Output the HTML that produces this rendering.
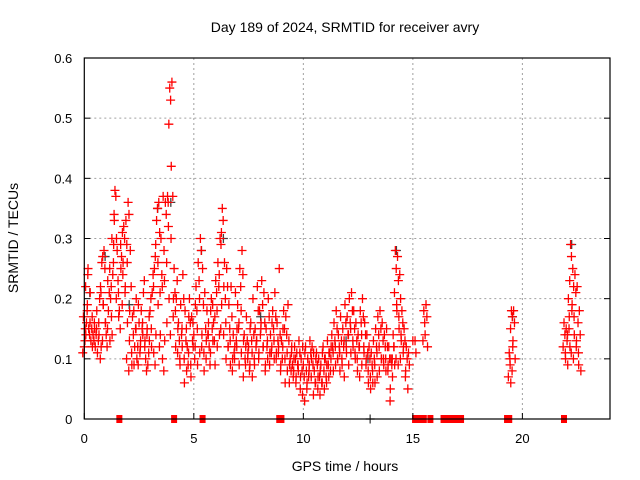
<!DOCTYPE html>
<html><head><meta charset="utf-8"><style>
body{margin:0;background:#fff;}
svg{display:block;font-family:"Liberation Sans",sans-serif;}
</style></head><body>
<svg id="c" width="640" height="480">
<text x="345" y="32" text-anchor="middle" font-size="14">Day 189 of 2024, SRMTID for receiver avry</text>
<text x="345" y="471" text-anchor="middle" font-size="14">GPS time / hours</text>
<text transform="translate(18,238) rotate(-90)" text-anchor="middle" font-size="14">SRMTID / TECUs</text>
<g id="grid"></g><g id="gray"></g><g id="pts"></g><g id="axes"></g>
</svg>
<script>
const xTicks=[0,5,10,15,20];
const yTicks=[0,0.1,0.2,0.3,0.4,0.5,0.6];
const yTickLabels=["0","0.1","0.2","0.3","0.4","0.5","0.6"];
const times=[0.0,0.1,0.2,0.3,0.4,0.5,0.6,0.7,0.8,0.9,1.0,1.1,1.2,1.3,1.4,1.5,1.6,1.7,1.8,1.9,2.0,2.1,2.2,2.3,2.4,2.5,2.6,2.7,2.8,2.9,3.0,3.1,3.2,3.3,3.4,3.5,3.6,3.7,3.8,3.9,4.0,4.1,4.2,4.3,4.4,4.5,4.6,4.7,4.8,4.9,5.0,5.1,5.2,5.3,5.4,5.5,5.6,5.7,5.8,5.9,6.0,6.1,6.2,6.3,6.4,6.5,6.6,6.7,6.8,6.9,7.0,7.1,7.2,7.3,7.4,7.5,7.6,7.7,7.8,7.9,8.0,8.1,8.2,8.3,8.4,8.5,8.6,8.7,8.8,8.9,9.0,9.1,9.2,9.3,9.4,9.5,9.6,9.7,9.8,9.9,10.0,10.1,10.2,10.3,10.4,10.5,10.6,10.7,10.8,10.9,11.0,11.1,11.2,11.3,11.4,11.5,11.6,11.7,11.8,11.9,12.0,12.1,12.2,12.3,12.4,12.5,12.6,12.7,12.8,12.9,13.0,13.1,13.2,13.3,13.4,13.5,13.6,13.7,13.8,13.9,14.0,14.1,14.2,14.3,14.4,14.5,14.6,14.7,14.8,15.0,15.1,15.5,15.6,19.4,19.5,19.6,21.9,22.0,22.1,22.2,22.3,22.4,22.5,22.6];
const values=[[.12,.15,.17,.14,.11],[.16,.19,.22,.25,.13],[.15,.14,.24,.21,.18],[.13,.15,.16,.12],[.14,.13,.17,.15],[.12,.14,.16,.18],[.11,.13,.15,.14],[.20,.22,.16,.12],[.26,.27,.21,.19,.10],[.28,.25,.19,.16,.13],[.14,.12,.16,.23],[.18,.21,.15,.13],[.20,.17,.25,.14],[.24,.29,.30,.33,.22],[.38,.37,.34,.30,.26],[.28,.23,.20,.17],[.18,.15,.21,.25],[.27,.31,.29,.26],[.32,.30,.24,.22,.19],[.33,.29,.21,.16],[.36,.34,.26,.18,.10],[.28,.22,.13,.09,.08],[.17,.14,.11,.09],[.12,.15,.18,.20],[.10,.12,.15,.19],[.16,.11,.09,.13],[.18,.15,.12,.14],[.21,.23,.16,.13],[.10,.08,.12,.15],[.09,.11,.14,.13],[.18,.20,.17,.12],[.21,.24,.15,.11],[.25,.27,.22,.14],[.33,.35,.29,.19,.09],[.36,.31,.26,.14],[.30,.24,.21,.10,.12],[.37,.28,.22,.13],[.36,.34,.23,.16,.08],[.37,.32,.26,.20],[.55,.53,.49,.42,.36],[.56,.37,.30,.20,.14],[.25,.21,.17,.12],[.20,.23,.18,.15],[.16,.13,.11,.09],[.19,.14,.10,.12],[.24,.20,.15,.06],[.18,.13,.10,.08],[.12,.09,.15,.17],[.20,.16,.11,.07],[.17,.13,.09,.12],[.14,.10,.16,.19],[.22,.18,.12,.09],[.26,.23,.15,.11],[.30,.28,.20,.14],[.25,.19,.12,.08],[.21,.15,.11,.13],[.18,.14,.10,.16],[.12,.09,.14,.18],[.20,.15,.11,.13],[.16,.13,.19,.09],[.23,.21,.17,.12],[.26,.22,.18,.14],[.30,.29,.24,.19],[.35,.33,.31,.22,.15],[.26,.20,.14,.10],[.25,.22,.16,.12],[.19,.15,.12,.09],[.22,.17,.13,.10],[.14,.11,.08,.12],[.21,.13,.10,.15],[.19,.15,.12,.09],[.25,.22,.16,.11],[.28,.24,.18,.13],[.14,.10,.07,.12],[.17,.13,.09,.11],[.12,.08,.10,.15],[.16,.13,.09,.07],[.20,.14,.11,.09],[.15,.12,.10,.13],[.22,.18,.13,.11],[.18,.14,.10,.16],[.23,.19,.15,.12],[.21,.16,.12,.09],[.15,.12,.08,.10],[.20,.17,.13,.11],[.14,.11,.09,.16],[.18,.15,.12,.10],[.21,.17,.13,.11],[.16,.13,.10,.12],[.25,.14,.11,.09],[.13,.10,.08,.15],[.18,.15,.12,.06],[.17,.14,.10,.08],[.19,.13,.11,.09],[.10,.08,.06,.12],[.09,.07,.11,.10],[.12,.10,.08,.07],[.11,.09,.06,.08],[.13,.11,.09,.07],[.10,.08,.05,.12],[.09,.07,.04,.11],[.12,.08,.03,.06],[.10,.07,.05,.09],[.13,.11,.08,.10],[.12,.09,.07,.11],[.08,.06,.04,.10],[.11,.09,.06,.07],[.10,.07,.05,.08],[.09,.06,.04,.11],[.12,.08,.06,.10],[.10,.07,.05,.09],[.13,.09,.06,.11],[.11,.08,.07,.12],[.14,.12,.10,.08],[.16,.13,.11,.09],[.18,.15,.12,.10],[.14,.12,.10,.08],[.17,.13,.11,.09],[.15,.12,.10,.07],[.19,.16,.13,.11],[.17,.14,.12,.09],[.20,.16,.14,.11],[.21,.18,.15,.12],[.18,.15,.13,.10],[.16,.13,.11,.08],[.14,.12,.10,.07],[.18,.16,.12,.09],[.20,.17,.14,.11],[.16,.14,.12,.10],[.14,.11,.09,.06],[.12,.10,.08,.05],[.11,.09,.07,.06],[.13,.10,.08,.06],[.15,.12,.09,.07],[.17,.14,.11,.08],[.18,.15,.12,.10],[.16,.13,.10,.09],[.14,.12,.10,.08],[.15,.12,.10,.09],[.12,.10,.08,.05],[.10,.09,.03,.07],[.14,.12,.10,.09],[.28,.25,.21,.18,.12],[.27,.23,.19,.15,.10],[.24,.20,.17,.13,.09],[.18,.16,.14,.12,.10],[.15,.13,.11,.08],[.12,.10,.07,.05],[.11,.09],[.13],[.13,.11],[.18,.16,.13],[.19,.17,.14,.12],[.11,.09,.07,.06],[.18,.17,.15,.13,.10],[.18,.16,.12,.10,.08],[.16,.14,.12,.10],[.15,.13,.11,.09],[.20,.17,.14,.12],[.29,.27,.23,.19,.15],[.25,.22,.18,.14,.11],[.24,.21,.17,.13,.10],[.22,.16,.12,.09],[.18,.14,.11,.08]];
const zeroTimes=[1.6,4.1,5.4,8.9,9.0,15.1,15.2,15.3,15.4,15.5,15.8,16.4,16.5,16.6,16.7,16.8,17.0,17.2,19.3,19.4,21.9];
const grayTimes=[0.2,0.9,2.0,3.3,3.9,5.3,6.3,8.0,11.9,12.9,13.0,14.2,19.5,22.2];
const grayValues=[.21,.27,.19,.35,.36,.28,.30,.17,.13,.10,0,.28,.17,.29];
const X0=84.3,X1=610,Y0=419,Y1=58,XMAX=24,YMAX=0.6;
const xs=t=>X0+(X1-X0)*t/XMAX, ys=v=>Y0-(Y0-Y1)*v/YMAX;
const jit=[0,0.04,-0.04,0.07,-0.07];
const NS="http://www.w3.org/2000/svg";
function mk(tag,attrs,parent){const e=document.createElementNS(NS,tag);for(const k in attrs)e.setAttribute(k,attrs[k]);parent.appendChild(e);return e;}
const grid=document.getElementById('grid'),axes=document.getElementById('axes'),pts=document.getElementById('pts'),gray=document.getElementById('gray');
xTicks.forEach(t=>{const x=xs(t);
 if(t>0){const g=mk('line',{x1:x,x2:x,y1:Y1,y2:Y0,stroke:'#a0a0a0','stroke-dasharray':'2,3','stroke-width':1},grid);
 
 }
 const tk=mk('line',{x1:x,x2:x,y1:Y0,y2:Y0-6,stroke:'#000'},axes);
 
 
 const lb=mk('text',{x:x,y:Y0+24,'text-anchor':'middle','font-size':13},axes);lb.textContent=String(t);
 
 });
yTicks.forEach((v,i)=>{const y=ys(v);
 if(v>0&&v<YMAX){const g=mk('line',{x1:X0,x2:X1,y1:y,y2:y,stroke:'#a0a0a0','stroke-dasharray':'2,3','stroke-width':1},grid);
 
 }
 const tk=mk('line',{x1:X0,x2:X0+6,y1:y,y2:y,stroke:'#000'},axes);
 
 
 const tk2=mk('line',{x1:X1,x2:X1-6,y1:y,y2:y,stroke:'#000'},axes);
 
 
 const lb=mk('text',{x:X0-12,y:y+5,'text-anchor':'end','font-size':13},axes);lb.textContent=yTickLabels[i];
 
 });
const fr=mk('rect',{x:X0,y:Y1,width:X1-X0,height:Y0-Y1,fill:'none',stroke:'#000','stroke-width':1.2},axes);


function plus(t,v,col,parent){const x=xs(t),y=ys(v);
 const p=mk('path',{d:`M${x-4.5},${y}h9M${x},${y-4.5}v9`,stroke:col,'stroke-width':1.3,fill:'none'},parent);
 
 }
grayTimes.forEach((t,i)=>plus(t+0.05,grayValues[i],'#404040',gray));
times.forEach((t,i)=>values[i].forEach((v,j)=>plus(t+jit[j],v,'#ff0000',pts)));
zeroTimes.forEach(t=>{const r=mk('rect',{x:xs(t)-3,y:Y0-4,width:6,height:8,fill:'#ff0000'},pts);
 
 });
</script>
</body></html>
